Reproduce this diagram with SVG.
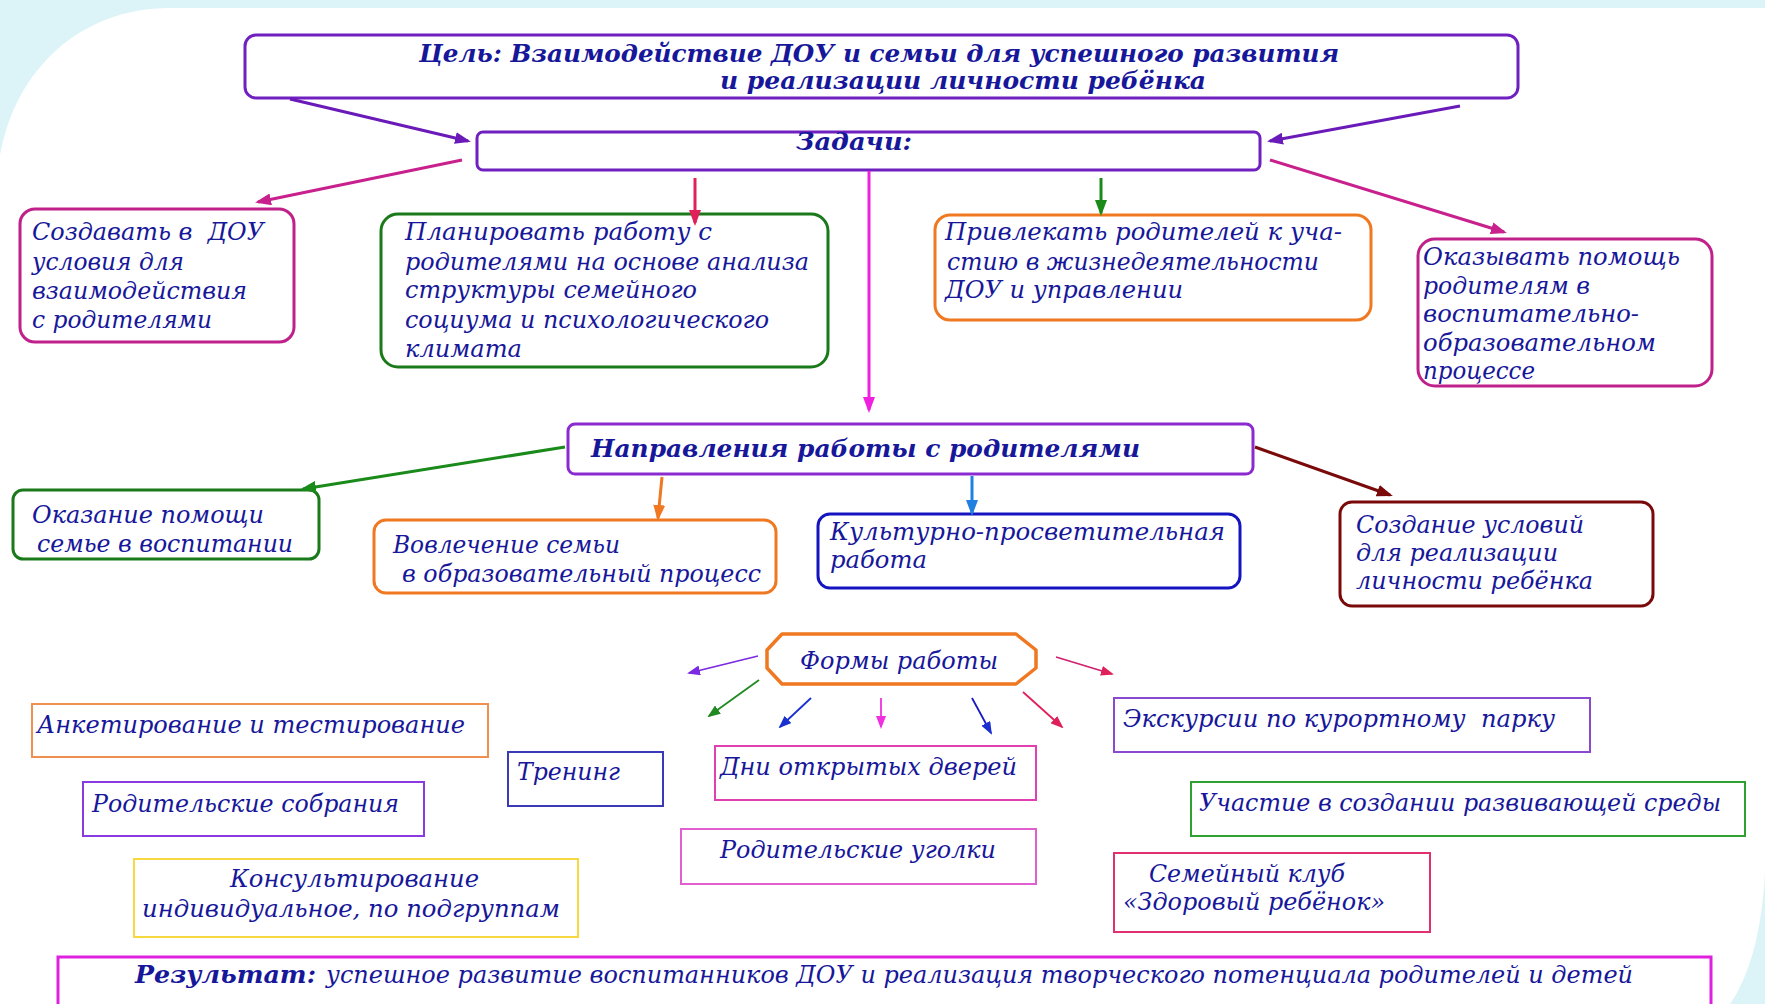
<svg xmlns="http://www.w3.org/2000/svg" width="1765" height="1004" viewBox="0 0 1765 1004">
<defs>
<style>
.t{font-family:"DejaVu Serif","Liberation Serif",serif;font-style:italic;font-size:24px;fill:#17179a}
.b{font-weight:bold}
.box{fill:#fff;stroke-width:3}
.fr{fill:#fff;stroke-width:2}
.c{fill:none;stroke-width:3}
.ct{fill:none;stroke-width:1.8}
</style>
<marker id="aP" viewBox="0 0 16 12" refX="13" refY="6" markerWidth="16" markerHeight="12" markerUnits="userSpaceOnUse" orient="auto"><path d="M0,0 L16,6 L0,12 z" fill="#6a1ab8"/></marker>
<marker id="aM" viewBox="0 0 16 12" refX="13" refY="6" markerWidth="16" markerHeight="12" markerUnits="userSpaceOnUse" orient="auto"><path d="M0,0 L16,6 L0,12 z" fill="#c8208c"/></marker>
<marker id="aR" viewBox="0 0 16 12" refX="13" refY="6" markerWidth="16" markerHeight="12" markerUnits="userSpaceOnUse" orient="auto"><path d="M0,0 L16,6 L0,12 z" fill="#e0205a"/></marker>
<marker id="aBM" viewBox="0 0 16 12" refX="13" refY="6" markerWidth="16" markerHeight="12" markerUnits="userSpaceOnUse" orient="auto"><path d="M0,0 L16,6 L0,12 z" fill="#f020e0"/></marker>
<marker id="aG" viewBox="0 0 16 12" refX="13" refY="6" markerWidth="16" markerHeight="12" markerUnits="userSpaceOnUse" orient="auto"><path d="M0,0 L16,6 L0,12 z" fill="#1a8a1a"/></marker>
<marker id="aO" viewBox="0 0 16 12" refX="13" refY="6" markerWidth="16" markerHeight="12" markerUnits="userSpaceOnUse" orient="auto"><path d="M0,0 L16,6 L0,12 z" fill="#f07820"/></marker>
<marker id="aLB" viewBox="0 0 16 12" refX="13" refY="6" markerWidth="16" markerHeight="12" markerUnits="userSpaceOnUse" orient="auto"><path d="M0,0 L16,6 L0,12 z" fill="#2080e0"/></marker>
<marker id="aDR" viewBox="0 0 16 12" refX="13" refY="6" markerWidth="16" markerHeight="12" markerUnits="userSpaceOnUse" orient="auto"><path d="M0,0 L16,6 L0,12 z" fill="#7a0a0a"/></marker>
<marker id="tP" viewBox="0 0 13 10" refX="11" refY="5" markerWidth="13" markerHeight="10" markerUnits="userSpaceOnUse" orient="auto"><path d="M0,0 L13,5 L0,10 z" fill="#7a2ae0"/></marker>
<marker id="tG" viewBox="0 0 13 10" refX="11" refY="5" markerWidth="13" markerHeight="10" markerUnits="userSpaceOnUse" orient="auto"><path d="M0,0 L13,5 L0,10 z" fill="#208a20"/></marker>
<marker id="tB" viewBox="0 0 13 10" refX="11" refY="5" markerWidth="13" markerHeight="10" markerUnits="userSpaceOnUse" orient="auto"><path d="M0,0 L13,5 L0,10 z" fill="#1a30d0"/></marker>
<marker id="tM" viewBox="0 0 13 10" refX="11" refY="5" markerWidth="13" markerHeight="10" markerUnits="userSpaceOnUse" orient="auto"><path d="M0,0 L13,5 L0,10 z" fill="#f030e0"/></marker>
<marker id="tR" viewBox="0 0 13 10" refX="11" refY="5" markerWidth="13" markerHeight="10" markerUnits="userSpaceOnUse" orient="auto"><path d="M0,0 L13,5 L0,10 z" fill="#e0205a"/></marker>
</defs>

<g id="background">
<rect x="0" y="0" width="1765" height="1004" fill="#dcf3f7"/>
<path d="M0,155 C15,70 80,8 170,8 L1765,8 L1765,872 C1762,930 1750,975 1730,1004 L0,1004 Z" fill="#fff"/>
</g>

<g id="goal">
<rect class="box" x="245" y="35" width="1273" height="63" rx="11" stroke="#7020c0"/>
<text class="t b" x="419" y="62" textLength="920" lengthAdjust="spacingAndGlyphs">Цель: Взаимодействие ДОУ и семьи для успешного развития</text>
<text class="t b" x="720" y="89" textLength="486" lengthAdjust="spacingAndGlyphs">и реализации личности ребёнка</text>
</g>

<g id="tasks">
<rect class="box" x="477" y="132" width="783" height="38" rx="6" stroke="#7020c0"/>
<text class="t b" x="796" y="150" textLength="116" lengthAdjust="spacingAndGlyphs">Задачи:</text>
</g>

<g id="task1">
<rect class="box" x="20" y="209" width="274" height="133" rx="15" stroke="#c0208a"/>
<text class="t" xml:space="preserve" x="32" y="240" textLength="232" lengthAdjust="spacingAndGlyphs">Создавать в  ДОУ</text>
<text class="t" x="32" y="270" textLength="152" lengthAdjust="spacingAndGlyphs">условия для</text>
<text class="t" x="32" y="299" textLength="215" lengthAdjust="spacingAndGlyphs">взаимодействия</text>
<text class="t" x="32" y="328" textLength="180" lengthAdjust="spacingAndGlyphs">с родителями</text>
</g>

<g id="task2">
<rect class="box" x="381" y="214" width="447" height="153" rx="17" stroke="#1a7a1a"/>
<text class="t" x="405" y="240" textLength="307" lengthAdjust="spacingAndGlyphs">Планировать работу с</text>
<text class="t" x="405" y="270" textLength="404" lengthAdjust="spacingAndGlyphs">родителями на основе анализа</text>
<text class="t" x="405" y="298" textLength="292" lengthAdjust="spacingAndGlyphs">структуры семейного</text>
<text class="t" x="405" y="328" textLength="364" lengthAdjust="spacingAndGlyphs">социума и психологического</text>
<text class="t" x="405" y="357" textLength="117" lengthAdjust="spacingAndGlyphs">климата</text>
</g>

<g id="task3">
<rect class="box" x="935" y="215" width="436" height="105" rx="15" stroke="#f07820"/>
<text class="t" x="945" y="240" textLength="397" lengthAdjust="spacingAndGlyphs">Привлекать родителей к уча-</text>
<text class="t" x="947" y="270" textLength="372" lengthAdjust="spacingAndGlyphs">стию в жизнедеятельности</text>
<text class="t" x="945" y="298" textLength="238" lengthAdjust="spacingAndGlyphs">ДОУ и управлении</text>
</g>

<g id="task4">
<rect class="box" x="1418" y="239" width="294" height="147" rx="17" stroke="#c0208a"/>
<text class="t" x="1423" y="265" textLength="257" lengthAdjust="spacingAndGlyphs">Оказывать помощь</text>
<text class="t" x="1423" y="294" textLength="167" lengthAdjust="spacingAndGlyphs">родителям в</text>
<text class="t" x="1423" y="322" textLength="216" lengthAdjust="spacingAndGlyphs">воспитательно-</text>
<text class="t" x="1423" y="351" textLength="233" lengthAdjust="spacingAndGlyphs">образовательном</text>
<text class="t" x="1423" y="379" textLength="112" lengthAdjust="spacingAndGlyphs">процессе</text>
</g>

<g id="directions">
<rect class="box" x="568" y="424" width="685" height="50" rx="7" stroke="#8a2ad0"/>
<text class="t b" x="591" y="457" textLength="549" lengthAdjust="spacingAndGlyphs">Направления работы с родителями</text>
</g>

<g id="dir1">
<rect class="box" x="13" y="490" width="306" height="69" rx="10" stroke="#1a7a1a"/>
<text class="t" x="32" y="523" textLength="232" lengthAdjust="spacingAndGlyphs">Оказание помощи</text>
<text class="t" x="37" y="552" textLength="256" lengthAdjust="spacingAndGlyphs">семье в воспитании</text>
</g>

<g id="dir2">
<rect class="box" x="374" y="520" width="402" height="73" rx="12" stroke="#f07820"/>
<text class="t" x="393" y="553" textLength="227" lengthAdjust="spacingAndGlyphs">Вовлечение семьи</text>
<text class="t" x="402" y="582" textLength="359" lengthAdjust="spacingAndGlyphs">в образовательный процесс</text>
</g>

<g id="dir3">
<rect class="box" x="818" y="514" width="422" height="74" rx="12" stroke="#1414c0"/>
<text class="t" x="830" y="540" textLength="395" lengthAdjust="spacingAndGlyphs">Культурно-просветительная</text>
<text class="t" x="830" y="568" textLength="97" lengthAdjust="spacingAndGlyphs">работа</text>
</g>

<g id="dir4">
<rect class="box" x="1340" y="502" width="313" height="104" rx="12" stroke="#7a0a0a"/>
<text class="t" x="1356" y="533" textLength="228" lengthAdjust="spacingAndGlyphs">Создание условий</text>
<text class="t" x="1356" y="561" textLength="202" lengthAdjust="spacingAndGlyphs">для реализации</text>
<text class="t" x="1356" y="589" textLength="237" lengthAdjust="spacingAndGlyphs">личности ребёнка</text>
</g>

<g id="forms">
<polygon points="782,634 1016,634 1036,650 1036,668 1016,684 782,684 767,668 767,650" fill="#fff" stroke="#f07820" stroke-width="3.5" stroke-linejoin="round"/>
<text class="t" x="800" y="669" textLength="198" lengthAdjust="spacingAndGlyphs">Формы работы</text>
</g>

<g id="form-survey">
<rect class="fr" x="32" y="704" width="456" height="53" stroke="#f09050"/>
<text class="t" x="37" y="733" textLength="428" lengthAdjust="spacingAndGlyphs">Анкетирование и тестирование</text>
</g>

<g id="form-meetings">
<rect class="fr" x="83" y="782" width="341" height="54" stroke="#8a3ae0"/>
<text class="t" x="92" y="812" textLength="307" lengthAdjust="spacingAndGlyphs">Родительские собрания</text>
</g>

<g id="form-consult">
<rect class="fr" x="134" y="859" width="444" height="78" stroke="#f8d840"/>
<text class="t" x="230" y="887" textLength="249" lengthAdjust="spacingAndGlyphs">Консультирование</text>
<text class="t" x="142" y="917" textLength="418" lengthAdjust="spacingAndGlyphs">индивидуальное, по подгруппам</text>
</g>

<g id="form-training">
<rect class="fr" x="508" y="752" width="155" height="54" stroke="#3a3ab8"/>
<text class="t" x="517" y="780" textLength="103" lengthAdjust="spacingAndGlyphs">Тренинг</text>
</g>

<g id="form-opendays">
<rect class="fr" x="715" y="746" width="321" height="54" stroke="#e040b0"/>
<text class="t" x="720" y="775" textLength="297" lengthAdjust="spacingAndGlyphs">Дни открытых дверей</text>
</g>

<g id="form-corners">
<rect class="fr" x="681" y="829" width="355" height="55" stroke="#e060d0"/>
<text class="t" x="720" y="858" textLength="276" lengthAdjust="spacingAndGlyphs">Родительские уголки</text>
</g>

<g id="form-excursions">
<rect class="fr" x="1114" y="698" width="476" height="54" stroke="#8a4ad0"/>
<text class="t" xml:space="preserve" x="1123" y="727" textLength="432" lengthAdjust="spacingAndGlyphs">Экскурсии по курортному  парку</text>
</g>

<g id="form-environment">
<rect class="fr" x="1191" y="782" width="554" height="54" stroke="#30a030"/>
<text class="t" x="1199" y="811" textLength="522" lengthAdjust="spacingAndGlyphs">Участие в создании развивающей среды</text>
</g>

<g id="form-club">
<rect class="fr" x="1114" y="853" width="316" height="79" stroke="#e03070"/>
<text class="t" x="1149" y="882" textLength="196" lengthAdjust="spacingAndGlyphs">Семейный клуб</text>
<text class="t" x="1123" y="910" textLength="262" lengthAdjust="spacingAndGlyphs">«Здоровый ребёнок»</text>
</g>

<g id="result">
<rect x="58" y="957" width="1653" height="60" fill="#fff" stroke="#e020e0" stroke-width="3"/>
<text class="t b" x="135" y="983" textLength="181" lengthAdjust="spacingAndGlyphs">Результат:</text>
<text class="t" x="326" y="983" textLength="1307" lengthAdjust="spacingAndGlyphs">успешное развитие воспитанников ДОУ и реализация творческого потенциала родителей и детей</text>
</g>

<g id="connectors">
<line class="c" x1="290" y1="99" x2="468" y2="141" stroke="#6a1ab8" marker-end="url(#aP)"/>
<line class="c" x1="1460" y1="106" x2="1270" y2="141" stroke="#6a1ab8" marker-end="url(#aP)"/>
<line class="c" x1="462" y1="160" x2="258" y2="202" stroke="#c8208c" marker-end="url(#aM)"/>
<line class="c" x1="695" y1="178" x2="695" y2="223" stroke="#e0205a" stroke-width="2.5" marker-end="url(#aR)"/>
<line class="c" x1="869" y1="171" x2="869" y2="410" stroke="#f020e0" stroke-width="2" marker-end="url(#aBM)"/>
<line class="c" x1="1101" y1="178" x2="1101" y2="213" stroke="#1a8a1a" stroke-width="2" marker-end="url(#aG)"/>
<line class="c" x1="1270" y1="160" x2="1504" y2="232" stroke="#c8208c" marker-end="url(#aM)"/>
<line class="c" x1="565" y1="447" x2="303" y2="489" stroke="#1a8a1a" marker-end="url(#aG)"/>
<line class="c" x1="662" y1="477" x2="658" y2="518" stroke="#f07820" stroke-width="2.5" marker-end="url(#aO)"/>
<line class="c" x1="972" y1="476" x2="972" y2="513" stroke="#2080e0" stroke-width="2" marker-end="url(#aLB)"/>
<line class="c" x1="1255" y1="447" x2="1390" y2="495" stroke="#7a0a0a" marker-end="url(#aDR)"/>
<line class="ct" x1="758" y1="656" x2="689" y2="673" stroke="#7a2ae0" marker-end="url(#tP)"/>
<line class="ct" x1="759" y1="680" x2="709" y2="716" stroke="#208a20" marker-end="url(#tG)"/>
<line class="ct" x1="811" y1="698" x2="780" y2="727" stroke="#1a30d0" marker-end="url(#tB)"/>
<line class="ct" x1="881" y1="698" x2="881" y2="727" stroke="#f030e0" marker-end="url(#tM)"/>
<line class="ct" x1="972" y1="698" x2="991" y2="733" stroke="#1a1ac0" marker-end="url(#tB)"/>
<line class="ct" x1="1023" y1="692" x2="1062" y2="727" stroke="#e0205a" marker-end="url(#tR)"/>
<line class="ct" x1="1056" y1="657" x2="1112" y2="674" stroke="#d02070" marker-end="url(#tR)"/>
</g>
</svg>
